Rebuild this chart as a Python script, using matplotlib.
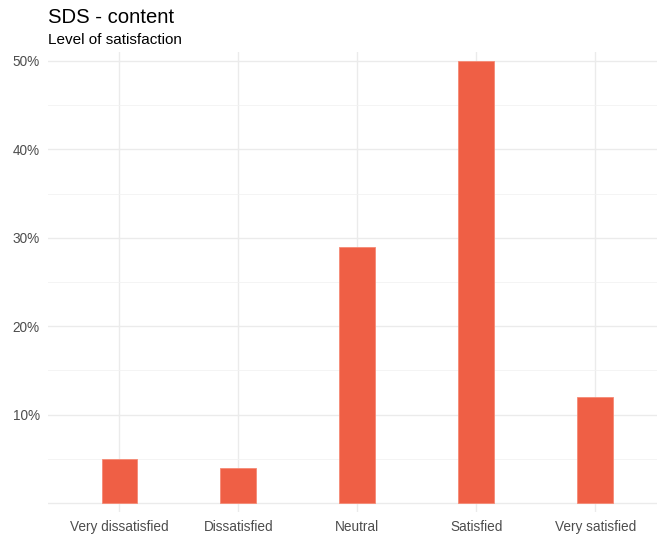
import matplotlib
matplotlib.use("Agg")
import matplotlib.pyplot as plt
from matplotlib.ticker import MultipleLocator, FuncFormatter

plt.rcParams['font.family'] = ['Liberation Sans', 'DejaVu Sans']

categories = ["Very dissatisfied", "Dissatisfied", "Neutral", "Satisfied", "Very satisfied"]
percent = [5, 4, 29, 50, 12]

fig = plt.figure(figsize=(6.57, 5.36), dpi=100)
ax = fig.add_axes([48 / 657, 1 - 512 / 536, 1 - 48 / 657, (512 - 52) / 536])

x = list(range(1, len(categories) + 1))
ax.bar(x, percent, width=0.3, color="#EF5F45", edgecolor="#F58A75", linewidth=0.6, zorder=3)

ax.set_xlim(0.4, 5.52)
ax.set_ylim(-1.0, 51.0)
ax.set_xticks(x)
ax.set_xticklabels(categories)
ax.yaxis.set_major_locator(MultipleLocator(10))
ax.yaxis.set_minor_locator(MultipleLocator(5))
ax.yaxis.set_major_formatter(FuncFormatter(lambda v, p: "" if v <= 0 else f"{v:.0f}%"))

ax.grid(which="major", color="#EBEBEB", linewidth=1.0, zorder=0)
ax.grid(which="minor", axis="y", color="#F2F2F2", linewidth=0.6, zorder=0)
ax.tick_params(which="both", length=0, labelsize=9.8, labelcolor="#4D4D4D")
ax.tick_params(axis="y", pad=6)
ax.tick_params(axis="x", pad=5.5)
for s in ax.spines.values():
    s.set_visible(False)

fig.text(48 / 657, 1 - 23 / 536, "SDS - content", fontsize=14.6, color="black", ha="left", va="baseline")
fig.text(48 / 657, 1 - 44 / 536, "Level of satisfaction", fontsize=11, color="black", ha="left", va="baseline")

fig.savefig("out.png", dpi=100)
